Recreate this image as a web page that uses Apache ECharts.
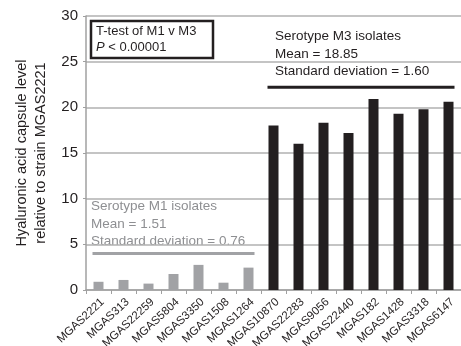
<!DOCTYPE html>
<html><head><meta charset="utf-8">
<script src="https://cdn.jsdelivr.net/npm/echarts@6/dist/echarts.min.js"></script>
<style>html,body{margin:0;padding:0;background:#fff}#c{width:461px;height:346px}</style>
</head><body><div id="c"></div>
<script>
const m1Strains = ['MGAS2221','MGAS313','MGAS22259','MGAS5804','MGAS3350','MGAS1508','MGAS1264'];
const m1Values = [0.9, 1.1, 0.7, 1.75, 2.75, 0.8, 2.45];
const m3Strains = ['MGAS10870','MGAS22283','MGAS9056','MGAS22440','MGAS182','MGAS1428','MGAS3318','MGAS6147'];
const m3Values = [18.0, 16.0, 18.3, 17.2, 20.9, 19.3, 19.8, 20.6];
const yTicks = [0, 5, 10, 15, 20, 25, 30];
const m1LineY = 4;
const m3LineY = 22.2;

const categories = m1Strains.concat(m3Strains);
const GRAY = '#a1a2a5', BLACK = '#231f20';
const barData = m1Values.map(v => ({value: v, itemStyle: {color: GRAY}}))
  .concat(m3Values.map(v => ({value: v, itemStyle: {color: BLACK}})));
const groupLines = [
  [0, m1Strains.length - 1, m1LineY, GRAY],
  [m1Strains.length, categories.length - 1, m3LineY, BLACK]
];
const font = 'Liberation Sans, Arial, sans-serif';
const chart = echarts.init(document.getElementById('c'));
chart.setOption({
  animation: false,
  grid: {left: 86, right: 0, top: 16, bottom: 56, outerBoundsMode: 'none', containLabel: false},
  xAxis: {
    type: 'category', data: categories,
    axisLine: {lineStyle: {color: '#a0a0a0', width: 1.5}},
    axisTick: {show: true, length: 4, lineStyle: {color: '#a0a0a0'}},
    axisLabel: {rotate: 43, fontSize: 11.5, color: BLACK, fontFamily: font, margin: 6, interval: 0, verticalAlign: 'top'}
  },
  yAxis: {
    type: 'value', min: yTicks[0], max: yTicks[yTicks.length - 1], interval: 5,
    name: 'Hyaluronic acid capsule level\nrelative to strain MGAS2221',
    nameLocation: 'middle', nameGap: 31, nameRotate: 90,
    nameTextStyle: {fontSize: 14.5, color: BLACK, fontFamily: font, lineHeight: 19},
    axisLine: {show: true, lineStyle: {color: '#a0a0a0', width: 1.5}},
    axisTick: {show: true, length: 3, lineStyle: {color: '#a0a0a0'}},
    axisLabel: {fontSize: 15, color: BLACK, fontFamily: font, margin: 8},
    splitLine: {lineStyle: {color: '#b0b0b0', width: 1.5}}
  },
  series: [
    {type: 'bar', data: barData, barWidth: 10},
    {
      type: 'custom', data: groupLines.map(g => [g[0], g[1], g[2]]),
      renderItem: function (params, api) {
        const i = params.dataIndex;
        const p0 = api.coord([api.value(0), api.value(2)]);
        const p1 = api.coord([api.value(1), api.value(2)]);
        return {type: 'line', shape: {x1: p0[0] - 6, y1: p0[1], x2: p1[0] + 6, y2: p1[1]},
          style: {stroke: groupLines[i][3], lineWidth: 3}};
      }
    }
  ],
  graphic: [
    {type: 'rect', shape: {x: 91, y: 21, width: 122, height: 37}, style: {fill: '#fff', stroke: BLACK, lineWidth: 2.5}},
    {type: 'text', x: 96, y: 25, style: {text: 'T-test of M1 v M3', fontSize: 13, fill: BLACK, fontFamily: font}},
    {type: 'text', x: 96, y: 41, style: {text: '{i|P} < 0.00001', fontSize: 13, fill: BLACK, fontFamily: font,
      rich: {i: {fontStyle: 'italic', fontSize: 13, fontFamily: font, fill: BLACK}}}},
    {type: 'text', x: 91, y: 198, style: {text: 'Serotype M1 isolates\nMean = 1.51\nStandard deviation = 0.76', fontSize: 13.5, lineHeight: 17.5, fill: '#8e8f92', fontFamily: font}},
    {type: 'text', x: 275, y: 28, style: {text: 'Serotype M3 isolates\nMean = 18.85\nStandard deviation = 1.60', fontSize: 13.5, lineHeight: 17.5, fill: BLACK, fontFamily: font}}
  ]
});
</script></body></html>
